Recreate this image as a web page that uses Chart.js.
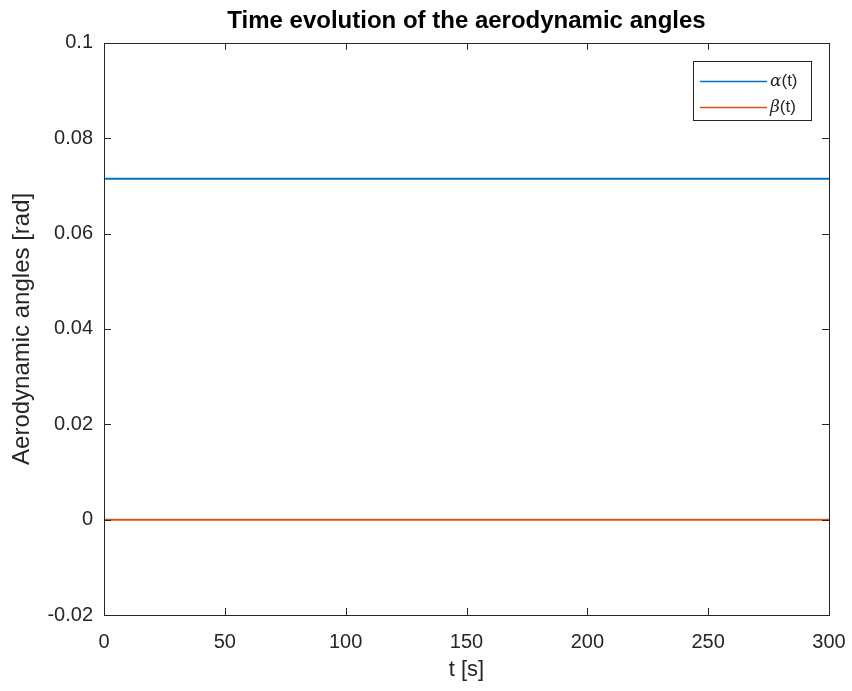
<!DOCTYPE html>
<html>
<head>
<meta charset="utf-8">
<script src="https://cdn.jsdelivr.net/npm/chart.js@4/dist/chart.umd.min.js"></script>
<style>
  html, body { margin: 0; padding: 0; background: #fff; }
  #wrap { width: 852px; height: 691px; }
</style>
</head>
<body>
<div id="wrap"><canvas id="myChart" width="852" height="691"></canvas></div>
<script>
// data
const timeS = [0, 300];
const alphaRad = [0.0715, 0.0715];
const betaRad = [0, 0];
const xTickStep = 50;
const yTickStep = 0.02;

const axisColor = '#262626';
const fam = '"Liberation Sans", Arial, sans-serif';

// MATLAB style box + inward ticks + legend inside the axes
const boxTicks = {
    id: 'boxTicks',
    afterDatasetsDraw(chart) {
        const ctx = chart.ctx, a = chart.chartArea;
        const xs = chart.scales.x, ys = chart.scales.y;
        const len = 7;
        ctx.save();
        ctx.strokeStyle = axisColor;
        ctx.lineWidth = 1;
        ctx.beginPath();
        xs.ticks.forEach(t => {
            const px = Math.round(xs.getPixelForValue(t.value)) + 0.5;
            ctx.moveTo(px, a.bottom); ctx.lineTo(px, a.bottom - len);
            ctx.moveTo(px, a.top); ctx.lineTo(px, a.top + len);
        });
        ys.ticks.forEach(t => {
            const py = Math.round(ys.getPixelForValue(t.value)) + 0.5;
            ctx.moveTo(a.left, py); ctx.lineTo(a.left + len, py);
            ctx.moveTo(a.right, py); ctx.lineTo(a.right - len, py);
        });
        ctx.stroke();
        ctx.strokeRect(Math.round(a.left) + 0.5, Math.round(a.top) + 0.5,
            Math.round(a.right - a.left), Math.round(a.bottom - a.top));

        // legend box
        const bw = 118, bh = 59;
        const bx = a.right - 18 - bw, by = a.top + 18;
        ctx.fillStyle = '#fff';
        ctx.fillRect(bx, by, bw, bh);
        ctx.strokeRect(Math.round(bx) + 0.5, Math.round(by) + 0.5, bw, bh);
        const names = ['\u03b1', '\u03b2'];
        chart.data.datasets.forEach((ds, i) => {
            const cy = Math.round(by + 20 + i * 26) + 0.5;
            ctx.strokeStyle = ds.borderColor;
            ctx.lineWidth = 1.5;
            ctx.beginPath();
            ctx.moveTo(bx + 7, cy); ctx.lineTo(bx + 74, cy);
            ctx.stroke();
            ctx.fillStyle = axisColor;
            ctx.textBaseline = 'middle';
            ctx.font = 'italic 17px "DejaVu Serif", serif';
            ctx.fillText(names[i], bx + 77, cy);
            const w = ctx.measureText(names[i]).width;
            ctx.font = '17px ' + fam;
            ctx.fillText('(t)', bx + 77 + w, cy);
        });
        ctx.restore();
    }
};

new Chart(document.getElementById('myChart'), {
    type: 'line',
    data: {
        labels: timeS,
        datasets: [
            { label: '\u03b1(t)', data: alphaRad, borderColor: '#0072BD', borderWidth: 2, pointRadius: 0, fill: false, tension: 0 },
            { label: '\u03b2(t)', data: betaRad, borderColor: '#D95319', borderWidth: 2, pointRadius: 0, fill: false, tension: 0 }
        ]
    },
    options: {
        responsive: false,
        animation: false,
        layout: { padding: { left: 0, right: 23, top: 0, bottom: 0 } },
        plugins: {
            legend: { display: false },
            tooltip: { enabled: false },
            title: {
                display: true,
                fullSize: false,
                text: 'Time evolution of the aerodynamic angles',
                color: '#000',
                font: { family: fam, size: 24, weight: 'bold' },
                padding: { top: 7, bottom: 7 }
            }
        },
        scales: {
            x: {
                type: 'linear',
                min: 0, max: 300,
                grid: { display: false, drawTicks: false },
                border: { display: false },
                ticks: { stepSize: xTickStep, color: axisColor, padding: 15,
                    font: { family: fam, size: 20 } },
                title: { display: true, text: 't [s]', color: axisColor, padding: { top: 0, bottom: 8 },
                    font: { family: fam, size: 22 } },
                afterFit(s) { s.height = 76; s.paddingLeft = 0; s.paddingRight = 0; }
            },
            y: {
                min: -0.02, max: 0.1,
                grid: { display: false, drawTicks: false },
                border: { display: false },
                ticks: { stepSize: yTickStep, color: axisColor, padding: 11,
                    font: { family: fam, size: 20 },
                    callback: v => String(Number(v.toFixed(2))) },
                title: { display: true, text: 'Aerodynamic angles [rad]', color: axisColor,
                    padding: { top: 8, bottom: 0 },
                    font: { family: fam, size: 24 } },
                afterFit(s) { s.width = 104; s.paddingTop = 0; s.paddingBottom = 0; }
            }
        }
    },
    plugins: [boxTicks]
});
</script>
</body>
</html>
